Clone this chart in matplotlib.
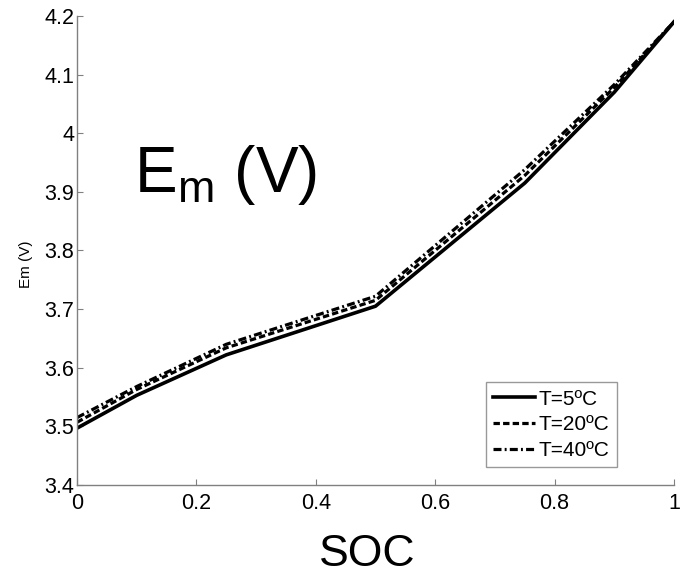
import matplotlib
matplotlib.use("Agg")
import matplotlib.pyplot as plt

plt.rcParams['font.family'] = ['Liberation Sans', 'DejaVu Sans']
plt.rcParams['mathtext.fontset'] = 'custom'
plt.rcParams['mathtext.rm'] = 'Liberation Sans'

soc = [0.0, 0.1, 0.25, 0.5, 0.75, 0.9, 1.0]
em_5 = [3.497, 3.553, 3.622, 3.705, 3.915, 4.07, 4.19]
em_20 = [3.507, 3.563, 3.634, 3.715, 3.928, 4.078, 4.19]
em_40 = [3.515, 3.568, 3.640, 3.722, 3.938, 4.083, 4.19]
labels = ['T=5ºC', 'T=20ºC', 'T=40ºC']
xticks = [0, 0.2, 0.4, 0.6, 0.8, 1]
xticklabels = ['0', '0.2', '0.4', '0.6', '0.8', '1']
yticks = [3.4, 3.5, 3.6, 3.7, 3.8, 3.9, 4.0, 4.1, 4.2]
yticklabels = ['3.4', '3.5', '3.6', '3.7', '3.8', '3.9', '4', '4.1', '4.2']

fig = plt.figure(figsize=(6.84, 5.81), dpi=100)
ax = fig.add_axes([0.1126, 0.1652, 0.8728, 0.8073])

ax.plot(soc, em_5, color='black', lw=2.6, ls='-', label=labels[0])
ax.plot(soc, em_20, color='black', lw=2.3, ls=(0, (2.0, 1.0)), label=labels[1])
ax.plot(soc, em_40, color='black', lw=2.3, ls=(0, (2.5, 1.0, 0.6, 1.0)), label=labels[2])

ax.set_xlim(0, 1)
ax.set_ylim(3.4, 4.2)
ax.set_xticks(xticks)
ax.set_xticklabels(xticklabels)
ax.set_yticks(yticks)
ax.set_yticklabels(yticklabels)
ax.tick_params(direction='in', length=4, width=0.8, color='#808080', labelsize=15.5)
ax.tick_params(axis='x', pad=6)
ax.tick_params(axis='y', pad=2)
for s in ['top', 'right']:
    ax.spines[s].set_visible(False)
for s in ['left', 'bottom']:
    ax.spines[s].set_color('#808080')
    ax.spines[s].set_linewidth(1.0)

fig.text(26 / 684, 1 - 264 / 581, 'Em (V)', fontsize=11, rotation=90, ha='center', va='center')
ax.set_xlabel('SOC', fontsize=32)
ax.xaxis.set_label_coords(0.486, -0.105)

ax.text(0.095, 0.66, r'$\mathregular{E_m}$ (V)', transform=ax.transAxes, fontsize=46, va='center', ha='left')

leg = ax.legend(loc='lower right', bbox_to_anchor=(0.9045, 0.038), fontsize=15, frameon=True,
                fancybox=False, edgecolor='#808080', handlelength=2.0, handletextpad=0.2,
                borderpad=0.35, labelspacing=0.32, borderaxespad=0)
leg.get_frame().set_linewidth(1.0)

fig.savefig('out.png', dpi=100, facecolor='white')
